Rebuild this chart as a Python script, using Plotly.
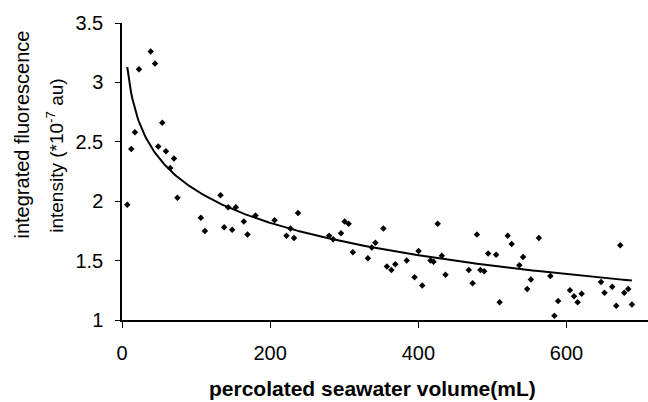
import numpy as np
import plotly.graph_objects as go

# Measured points: percolated volume (mL) and integrated fluorescence intensity (*10^-7 au)
volume_ml = [7.1, 12.5, 17.5, 22.9, 38.7, 44.5, 48.9, 54.3, 59.3, 65.1, 70.1, 74.8,
             106.5, 111.9, 133.0, 137.9, 143.3, 148.7, 153.6, 164.4, 169.4, 180.2,
             205.9, 222.0, 227.4, 232.2, 237.6, 279.6, 285.0, 295.6, 300.5, 305.9,
             311.6, 331.9, 337.2, 342.0, 352.8, 357.5, 363.6, 368.9, 384.4, 394.9,
             400.3, 405.3, 416.4, 420.5, 426.1, 431.7, 436.7, 468.1, 473.3, 479.1,
             483.8, 488.9, 494.2, 505.0, 509.7, 520.6, 526.0, 536.4, 541.4, 546.9,
             551.9, 562.7, 578.2, 583.6, 588.7, 604.7, 610.1, 615.0, 620.4, 646.6,
             651.3, 661.7, 667.1, 672.5, 677.9, 683.3, 688.3]
intensity = [1.97, 2.44, 2.58, 3.11, 3.26, 3.16, 2.46, 2.66, 2.42, 2.28, 2.36, 2.03,
             1.86, 1.75, 2.05, 1.78, 1.95, 1.76, 1.95, 1.83, 1.72, 1.88,
             1.84, 1.71, 1.77, 1.69, 1.90, 1.71, 1.68, 1.73, 1.83, 1.81,
             1.57, 1.52, 1.61, 1.65, 1.77, 1.45, 1.42, 1.47, 1.50, 1.36,
             1.58, 1.29, 1.50, 1.49, 1.81, 1.54, 1.38, 1.42, 1.31, 1.72,
             1.42, 1.41, 1.56, 1.55, 1.15, 1.71, 1.64, 1.46, 1.53, 1.26,
             1.34, 1.69, 1.37, 1.035, 1.16, 1.25, 1.20, 1.15, 1.22, 1.32,
             1.23, 1.28, 1.12, 1.63, 1.23, 1.26, 1.13]

# Logarithmic trend line y = a - b*ln(x)
fit_a = 3.90
fit_b = 0.393
fit_x_start = 7.1
fit_x_end = 688.3

x_ticks = [0, 200, 400, 600]
y_ticks = [1, 1.5, 2, 2.5, 3, 3.5]
y_tick_labels = ["1", "1.5", "2", "2.5", "3", "3.5"]

fx = np.linspace(fit_x_start, fit_x_end, 400)
fy = fit_a - fit_b * np.log(fx)

font = "Liberation Sans, Arial, sans-serif"

fig = go.Figure()
fig.add_trace(go.Scatter(x=volume_ml, y=intensity, mode="markers",
                         marker=dict(symbol="diamond", size=5, color="black"),
                         cliponaxis=False, showlegend=False))
fig.add_trace(go.Scatter(x=fx, y=fy, mode="lines",
                         line=dict(color="black", width=2),
                         cliponaxis=False, showlegend=False))

fig.update_layout(
    width=648, height=402,
    margin=dict(l=122, r=0, t=23, b=81.5, pad=0),
    paper_bgcolor="white", plot_bgcolor="white",
    font=dict(family=font, size=20, color="black"),
    xaxis=dict(range=[0, 710], tickvals=x_ticks, ticks="outside", ticklen=6,
               tickcolor="black", tickwidth=1, showline=True, linecolor="black",
               linewidth=1.5, showgrid=False, zeroline=False,
               ticklabelstandoff=8,
               tickfont=dict(size=20, family=font)),
    yaxis=dict(range=[1, 3.5], tickvals=y_ticks, ticktext=y_tick_labels,
               ticks="outside", ticklen=5, tickcolor="black", tickwidth=1,
               showline=True, linecolor="black", linewidth=1.5, showgrid=False,
               zeroline=False, ticklabelstandoff=8,
               tickfont=dict(size=20, family=font)),
    annotations=[
        dict(text="<b>percolated seawater volume(mL)</b>", xref="paper", yref="paper",
             x=(372 - 122) / 526, y=(320.5 - 389) / 297.5, xanchor="center",
             yanchor="middle", showarrow=False, font=dict(size=21, family=font)),
        dict(text="integrated fluorescence", xref="paper", yref="paper",
             x=(21.7 - 122) / 526, y=(320.5 - 135) / 297.5, xanchor="center",
             yanchor="middle", textangle=-90, showarrow=False,
             font=dict(size=20, family=font)),
        dict(text="intensity (*10<sup>-7</sup> au)", xref="paper", yref="paper",
             x=(55 - 122) / 526, y=(320.5 - 156) / 297.5, xanchor="center",
             yanchor="middle", textangle=-90, showarrow=False,
             font=dict(size=19, family=font)),
    ],
)

fig.write_html("out.html")
